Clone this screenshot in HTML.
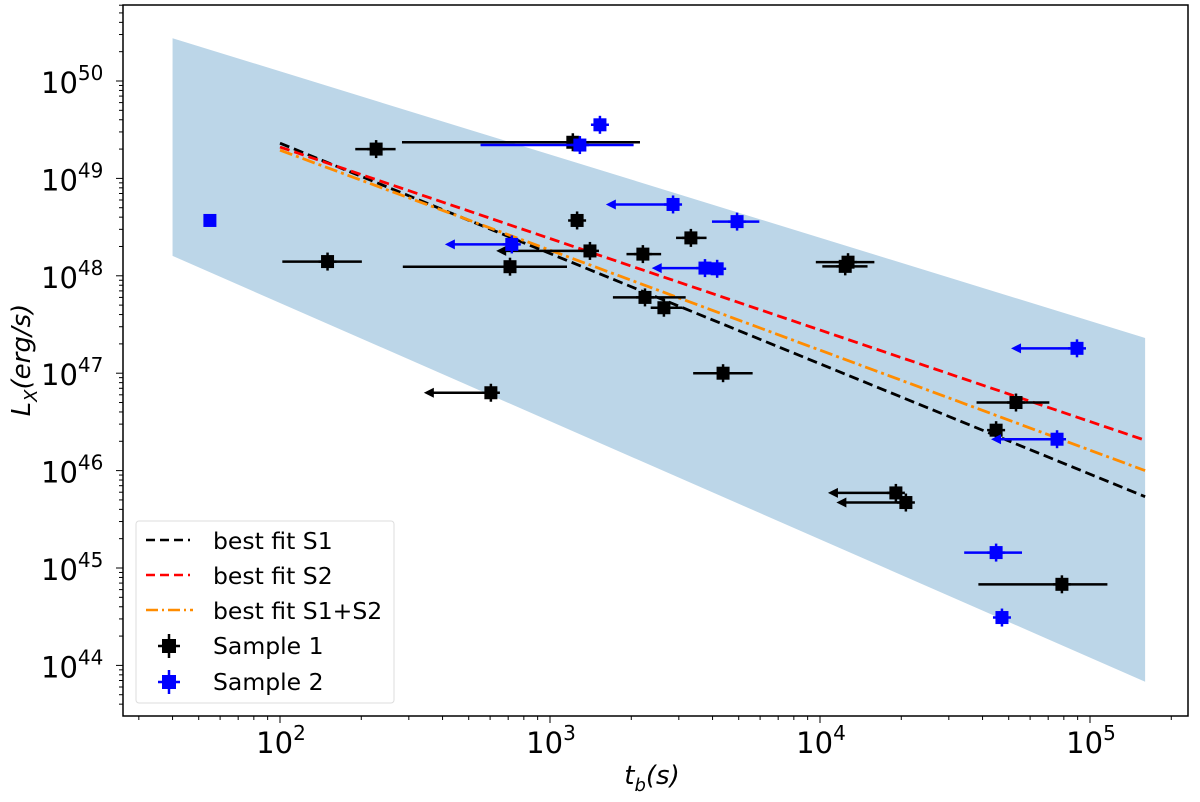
<!DOCTYPE html>
<html><head><meta charset="utf-8"><style>
body{margin:0;background:#fff}
svg{font-family:"DejaVu Sans","Liberation Sans",sans-serif}
</style></head><body>
<svg id="c" width="1200" height="797"></svg>
<script>
const bandT=[40,160000];
const bandTop=[2.75e50,2.3e47];
const bandBot=[1.6e48,6.8e43];
const fitT=[100,160000];
const fitS1=[2.3e49,5.4e45];
const fitS2=[2.1e49,2.05e46];
const fitS12=[1.95e49,1.0e46];
// Sample 1: t, L, tlo, thi, upper-limit arrow target (0 = none)
const s1T=[227,1215,150,711,1260,1406,2208,3325,2248,2642,4375,604,12700,12400,53200,44900,19100,20800,78700];
const s1L=[2.0e49,2.35e49,1.4e48,1.24e48,3.7e48,1.8e48,1.67e48,2.45e48,6e47,4.7e47,1e47,6.3e46,1.38e48,1.25e48,5e46,2.6e46,5.9e45,4.7e45,6.8e44];
const s1Lo=[190,283,102,285,1260,1406,1920,2930,1710,2360,3390,604,9650,10200,38000,44900,19100,20800,38600];
const s1Hi=[268,2154,201,1156,1260,1406,2580,3800,3180,3100,5630,604,15900,15000,70700,44900,19100,20800,116000];
const s1Arr=[0,0,0,0,0,632,0,0,0,0,0,341,0,0,0,0,10700,11500,0];
const s2T=[55,1531,1290,2856,4930,722,3750,4160,89500,75500,44900,47200];
const s2L=[3.7e48,3.55e49,2.2e49,5.4e48,3.6e48,2.1e48,1.2e48,1.18e48,1.8e47,2.1e46,1.44e45,3.1e44];
const s2Lo=[55,1531,553,2856,3980,722,3750,4160,89500,75500,34200,47200];
const s2Hi=[55,1531,2040,2856,5960,722,3750,4160,89500,75500,56000,47200];
const s2Arr=[0,0,0,1610,0,408,2380,0,51000,43000,0,0];
const xTicks=[2,3,4,5];
const yTicks=[44,45,46,47,48,49,50];

const NS="http://www.w3.org/2000/svg";
const svg=document.getElementById('c');
const X=t=>280+270*(Math.log10(t)-2);
const Y=L=>81+97.4*(50-Math.log10(L));
function el(tag,a,p){const e=document.createElementNS(NS,tag);for(const k in a)e.setAttribute(k,a[k]);(p||svg).appendChild(e);return e;}
const defs=el('defs',{});
const cp=el('clipPath',{id:'cp'},defs);el('rect',{x:123,y:5,width:1065,height:711},cp);
const g=el('g',{'clip-path':'url(#cp)'});
let band=el('polygon',{points:`${X(bandT[0])},${Y(bandTop[0])} ${X(bandT[1])},${Y(bandTop[1])} ${X(bandT[1])},${Y(bandBot[1])} ${X(bandT[0])},${Y(bandBot[0])}`,fill:'#bcd6e8'},g);


function fit(arr,col,dash,name){const l=el('line',{x1:X(fitT[0]),y1:Y(arr[0]),x2:X(fitT[1]),y2:Y(arr[1]),stroke:col,'stroke-width':2.8,'stroke-dasharray':dash},g);

}
fit(fitS1,'#000','10,5','fit-line-s1');
fit(fitS2,'#f00','10,5','fit-line-s2');
fit(fitS12,'#ff8c00','13,4,3,4','fit-line-s1-s2');
function pts(T,L,Lo,Hi,Ar,col,name){for(let i=0;i<T.length;i++){const gg=el('g',{},g);


const x=X(T[i]),y=Y(L[i]);
if(Lo[i]!==Hi[i])el('line',{x1:X(Lo[i]),y1:y,x2:X(Hi[i]),y2:y,stroke:col,'stroke-width':2.5},gg);
if(Ar[i]){const xa=X(Ar[i]);el('line',{x1:xa+6,y1:y,x2:x,y2:y,stroke:col,'stroke-width':2.5},gg);el('polygon',{points:`${xa},${y} ${xa+10},${y-5} ${xa+10},${y+5}`,fill:col},gg);}
if(T[i]>60){el('line',{x1:x,y1:y-9,x2:x,y2:y+9,stroke:col,'stroke-width':2.5},gg);el('line',{x1:x-9,y1:y,x2:x+9,y2:y,stroke:col,'stroke-width':2.5},gg);}
el('rect',{x:x-6.5,y:y-6.5,width:13,height:13,fill:col},gg);}}
pts(s1T,s1L,s1Lo,s1Hi,s1Arr,'#000','sample1-point');
pts(s2T,s2L,s2Lo,s2Hi,s2Arr,'#0000ff','sample2-point');
const fr=el('rect',{x:123,y:5,width:1065,height:711,fill:'none',stroke:'#000','stroke-width':1.5});


for(let d=1;d<=5;d++)for(let m=1;m<10;m++){const x=X(m*Math.pow(10,d));if(x<123||x>1188)continue;el('line',{x1:x,y1:716,x2:x,y2:716+(m==1?7:4),stroke:'#000','stroke-width':1});}
for(let d=43;d<=50;d++)for(let m=1;m<10;m++){const y=Y(m*Math.pow(10,d));if(y<5||y>716)continue;el('line',{x1:123,y1:y,x2:123-(m==1?7:4),y2:y,stroke:'#000','stroke-width':1});}
xTicks.forEach(p=>{const t=el('text',{x:X(Math.pow(10,p))+1,y:753,'font-size':29,'text-anchor':'middle'});t.innerHTML=`10<tspan dy="-13" font-size="20">${p}</tspan>`;

});
yTicks.forEach(p=>{const t=el('text',{x:41,y:Y(Math.pow(10,p))+12,'font-size':29});t.innerHTML=`10<tspan dy="-13" font-size="20">${p}</tspan>`;

});
</script>
<svg width="1200" height="797" style="position:absolute;left:0;top:0">
<text x="652" y="784" font-size="26" font-style="italic" text-anchor="middle" font-family="DejaVu Sans,sans-serif">t<tspan font-size="18" dy="7">b</tspan><tspan dy="-7">(s)</tspan></text>
<text transform="translate(30,360) rotate(-90)" font-size="26" font-style="italic" text-anchor="middle" font-family="DejaVu Sans,sans-serif">L<tspan font-size="18" dy="7">X</tspan><tspan dy="-7">(erg/s)</tspan></text>
<g font-family="DejaVu Sans,sans-serif" font-size="23.5">
<rect x="136" y="521" width="258" height="182" rx="3" fill="#fff" fill-opacity="0.85" stroke="#ddd"/>
<line x1="146" y1="540" x2="190" y2="540" stroke="#000" stroke-width="2.6" stroke-dasharray="9,5"/><text x="213" y="549">best fit S1</text>
<line x1="146" y1="575" x2="190" y2="575" stroke="#f00" stroke-width="2.6" stroke-dasharray="9,5"/><text x="213" y="584">best fit S2</text>
<line x1="146" y1="610" x2="193" y2="610" stroke="#ff8c00" stroke-width="2.6" stroke-dasharray="12,4,2,4"/><text x="213" y="619">best fit S1+S2</text>
<g><line x1="169" y1="634" x2="169" y2="658" stroke="#000" stroke-width="2.5"/><line x1="158" y1="646" x2="180" y2="646" stroke="#000" stroke-width="2.5"/><rect x="162" y="639" width="14" height="14" fill="#000"/><text x="213" y="654">Sample 1</text></g>
<g><line x1="169" y1="670" x2="169" y2="694" stroke="#00f" stroke-width="2.5"/><line x1="158" y1="682" x2="180" y2="682" stroke="#00f" stroke-width="2.5"/><rect x="162" y="675" width="14" height="14" fill="#00f"/><text x="213" y="690">Sample 2</text></g>
</g>
</svg>
</body></html>
